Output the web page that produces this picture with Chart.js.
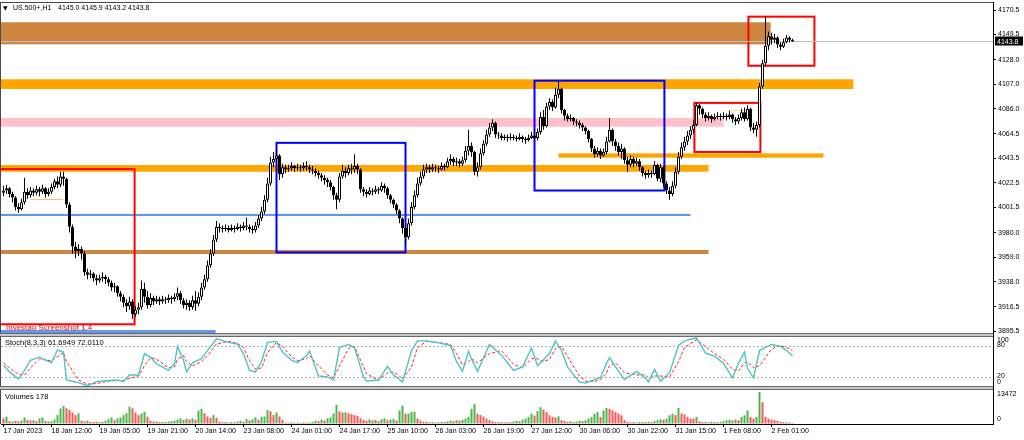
<!DOCTYPE html>
<html>
<head>
<meta charset="utf-8">
<script src="https://cdn.jsdelivr.net/npm/chart.js@4.4.1/dist/chart.umd.min.js"></script>
<style>
html,body{margin:0;padding:0;background:#fff}
#c{display:block}
</style>
</head>
<body>
<canvas id="c" width="1024" height="440" style="width:1024px;height:440px"></canvas>
<script>
// US.500+ H1, 17 Jan - 2 Feb 2023
var symbol = "US.500+,H1";
var xLabels = ["17 Jan 2023","18 Jan 12:00","19 Jan 05:00","19 Jan 21:00","20 Jan 14:00","23 Jan 08:00","24 Jan 01:00","24 Jan 17:00","25 Jan 10:00","26 Jan 03:00","26 Jan 19:00","27 Jan 12:00","30 Jan 06:00","30 Jan 22:00","31 Jan 15:00","1 Feb 08:00","2 Feb 01:00"];
var xLabelBars = [0,16,32,48,64,80,96,112,128,144,160,176,192,208,224,240,256];
var priceTicks = [4170.5,4149.5,4128.0,4107.0,4086.0,4064.5,4043.5,4022.5,4001.5,3980.0,3959.0,3938.0,3916.5,3895.5];

var opens = [
4014,4016,4018,4013,4010,4002,4000,4006,4015,4012,
4016,4014,4017,4015,4018,4013,4015,4019,4024,4021,
4028,4026,4004,3985,3968,3964,3966,3962,3946,3944,
3945,3941,3939,3941,3942,3940,3937,3933,3934,3928,
3925,3920,3917,3921,3910,3914,3916,3932,3925,3918,
3924,3921,3923,3921,3923,3922,3924,3923,3925,3928,
3922,3918,3920,3916,3922,3919,3925,3933,3940,3952,
3962,3974,3985,3984,3983,3984,3982,3984,3983,3985,
3984,3986,3985,3983,3982,3986,3992,3998,4008,4022,
4040,4043,4046,4030,4036,4034,4035,4037,4035,4036,
4035,4037,4036,4034,4033,4031,4029,4027,4025,4023,
4019,4012,4008,4028,4033,4031,4035,4034,4037,4034,
4017,4015,4013,4016,4015,4017,4016,4020,4018,4012,
4008,4004,3999,3992,3984,3976,3988,4002,4012,4022,
4028,4034,4036,4034,4036,4035,4034,4037,4036,4041,
4043,4040,4041,4039,4042,4050,4054,4049,4032,4036,
4048,4056,4064,4070,4074,4064,4063,4061,4062,4061,
4062,4061,4060,4062,4060,4059,4061,4063,4061,4066,
4079,4071,4088,4092,4087,4098,4103,4085,4080,4077,
4078,4075,4074,4072,4070,4067,4060,4052,4047,4050,
4046,4049,4058,4068,4058,4054,4049,4052,4042,4038,
4043,4039,4041,4036,4031,4029,4031,4030,4038,4026,
4036,4022,4016,4013,4020,4032,4045,4053,4058,4063,
4068,4072,4089,4086,4081,4078,4080,4077,4079,4080,
4079,4080,4079,4081,4077,4075,4078,4083,4077,4086,
4070,4068,4072,4105,4125,4140,4148,4145,4147,4141,
4139,4143,4147,4145.0];
var highs = [
4020,4021,4019,4015,4011,4005,4009,4027,4018,4019,
4018,4020,4019,4021,4019,4018,4022,4026,4028,4032,
4032,4027,4006,3987,3972,3970,3968,3964,3949,3948,
3946,3944,3944,3946,3944,3942,3939,3937,3935,3930,
3927,3923,3925,3923,3917,3920,3939,3937,3930,3928,
3926,3926,3925,3926,3925,3927,3926,3928,3933,3930,
3924,3923,3922,3926,3930,3929,3937,3944,3956,3966,
3978,3990,3988,3986,3987,3986,3987,3986,3988,3987,
3989,3993,3987,3986,3989,3995,4002,4012,4027,4045,
4049,4051,4047,4039,4038,4038,4040,4038,4039,4038,
4040,4041,4038,4037,4035,4033,4031,4029,4027,4025,
4020,4014,4031,4038,4036,4038,4039,4047,4039,4035,
4019,4017,4019,4018,4020,4019,4023,4022,4019,4013,
4009,4005,4000,3993,3986,3992,4006,4016,4027,4032,
4038,4039,4038,4039,4038,4037,4040,4039,4044,4047,
4045,4044,4043,4045,4054,4068,4057,4050,4040,4052,
4059,4068,4074,4077,4075,4066,4065,4064,4064,4065,
4064,4063,4065,4063,4062,4064,4066,4066,4069,4083,
4085,4091,4095,4094,4104,4110,4104,4086,4082,4081,
4079,4077,4076,4074,4071,4068,4061,4054,4053,4052,
4052,4062,4078,4069,4060,4057,4056,4053,4045,4046,
4045,4044,4043,4037,4033,4034,4033,4041,4039,4039,
4037,4024,4019,4024,4036,4049,4057,4062,4067,4071,
4076,4091,4090,4087,4083,4083,4081,4082,4083,4082,
4083,4082,4084,4082,4079,4081,4086,4087,4089,4087,
4074,4075,4108,4128,4164.5,4152,4151,4150,4148,4143,
4146,4149,4148,4145.9];
var lows = [
4011,4013,4010,4006,3999,3997,3999,4004,4009,4010,
4011,4012,4011,4013,4010,4011,4013,4017,4018,4019,
4020,4001,3980,3962,3958,3960,3957,3943,3940,3941,
3938,3935,3937,3938,3936,3934,3930,3929,3925,3921,
3916,3912,3914,3906,3908,3910,3914,3920,3915,3916,
3918,3919,3918,3919,3919,3920,3919,3921,3922,3919,
3915,3914,3913,3914,3913,3917,3922,3931,3938,3950,
3960,3972,3980,3980,3981,3980,3981,3980,3982,3981,
3982,3982,3980,3979,3980,3984,3990,3996,4006,4020,
4036,4040,4025,4027,4031,4032,4033,4032,4033,4032,
4033,4033,4031,4030,4028,4026,4024,4021,4019,4016,
4008,4000,4006,4026,4027,4029,4030,4031,4030,4014,
4011,4010,4012,4012,4013,4013,4015,4014,4009,4005,
4001,3996,3988,3979,3971,3974,3986,4000,4010,4020,
4026,4031,4031,4032,4032,4031,4033,4033,4035,4038,
4037,4037,4036,4037,4040,4046,4045,4029,4028,4034,
4046,4054,4062,4067,4061,4060,4059,4059,4058,4059,
4059,4058,4059,4057,4056,4058,4060,4059,4059,4064,
4068,4070,4085,4084,4086,4095,4082,4076,4075,4075,
4072,4071,4069,4067,4064,4057,4049,4044,4045,4043,
4045,4047,4057,4054,4050,4046,4043,4039,4032,4036,
4036,4037,4033,4028,4026,4027,4027,4029,4024,4023,
4019,4013,4008,4011,4018,4030,4043,4050,4055,4060,
4065,4071,4081,4078,4075,4076,4074,4076,4077,4076,
4077,4076,4077,4074,4072,4073,4076,4075,4076,4067,
4065,4062,4070,4103,4122,4136,4141,4142,4138,4136,
4138,4142,4143,4143.2];
var closes = [
4016,4018,4013,4010,4002,4000,4006,4015,4012,4016,
4014,4017,4015,4018,4013,4015,4019,4024,4021,4028,
4026,4004,3985,3968,3964,3966,3962,3946,3944,3945,
3941,3939,3941,3942,3940,3937,3933,3934,3928,3925,
3920,3917,3921,3910,3914,3916,3932,3925,3918,3924,
3921,3923,3921,3923,3922,3924,3923,3925,3928,3922,
3918,3920,3916,3922,3919,3925,3933,3940,3952,3962,
3974,3985,3984,3983,3984,3982,3984,3983,3985,3984,
3986,3985,3983,3982,3986,3992,3998,4008,4022,4040,
4043,4046,4030,4036,4034,4035,4037,4035,4036,4035,
4037,4036,4034,4033,4031,4029,4027,4025,4023,4019,
4012,4008,4028,4033,4031,4035,4034,4037,4034,4017,
4015,4013,4016,4015,4017,4016,4020,4018,4012,4008,
4004,3999,3992,3984,3976,3988,4002,4012,4022,4028,
4034,4036,4034,4036,4035,4034,4037,4036,4041,4043,
4040,4041,4039,4042,4050,4054,4049,4032,4036,4048,
4056,4064,4070,4074,4064,4063,4061,4062,4061,4062,
4061,4060,4062,4060,4059,4061,4063,4061,4066,4079,
4071,4088,4092,4087,4098,4103,4085,4080,4077,4078,
4075,4074,4072,4070,4067,4060,4052,4047,4050,4046,
4049,4058,4068,4058,4054,4049,4052,4042,4038,4043,
4039,4041,4036,4031,4029,4031,4030,4038,4026,4036,
4022,4016,4013,4020,4032,4045,4053,4058,4063,4068,
4072,4089,4086,4081,4078,4080,4077,4079,4080,4079,
4080,4079,4081,4077,4075,4078,4083,4077,4086,4070,
4068,4072,4105,4125,4140,4148,4145,4147,4141,4139,
4143,4147,4145,4143.8];
var volumes = [
2200,2900,1000,800,1200,900,1300,2600,1500,1200,
1400,1000,2200,2600,1100,800,1000,1700,3600,6400,
7500,6500,5800,4700,3600,4400,1200,900,1300,700,
600,800,500,700,1200,1800,2600,1400,2200,2600,
3600,4400,7200,6500,4700,3600,4300,5000,2900,1200,
800,900,600,700,500,800,1000,1200,1700,2200,
1500,2000,1700,2200,1600,5500,6200,4400,3000,2400,
3600,2400,800,500,700,400,600,500,800,1200,
700,2000,1300,1700,2600,1600,2900,3000,5800,5200,
3600,4700,3000,1500,400,300,500,300,400,300,
500,300,400,700,1200,1000,1700,1300,2200,2600,
4300,8000,5100,4700,4800,4400,4000,3600,3200,2200,
1500,1200,1700,1300,1500,1000,1800,2200,1400,1700,
2000,1300,5600,7700,4200,4300,4900,5000,2100,1200,
700,800,500,600,400,500,700,600,900,1200,
1000,1400,1200,1600,2100,2800,6300,8400,4200,3600,
2900,2100,1500,900,600,500,700,400,600,500,
800,1100,900,1600,2100,2800,4200,3400,5300,7000,
5900,4900,3500,2800,2500,3100,1400,1100,700,900,
600,800,1200,1000,1400,2100,2800,4200,4900,2800,
5600,6700,6300,5600,4900,4200,3500,1400,700,500,
600,400,700,500,600,800,600,1100,1400,1800,
1600,2100,3500,4200,3600,6700,4200,3900,2800,2100,
2100,2800,900,600,700,500,800,600,500,700,
1000,1400,1600,1300,1700,1400,2800,3500,5600,2800,
2100,2800,13472,9100,2800,2100,1700,1400,1100,700,
600,500,400,178];

// stochastic (8,3,3) read at these bars
var stochBars = [0,2,5,7,9,12,16,18,20,21,25,28,31,35,38,40,42,45,47,49,51,55,57,58,60,61,63,66,68,71,75,78,80,82,84,86,88,91,93,96,98,101,102,105,108,110,112,115,117,120,121,125,128,130,132,133,136,138,141,145,149,151,153,155,156,158,162,166,170,173,176,178,180,182,184,186,188,192,194,197,199,201,202,204,207,211,214,215,217,219,222,225,227,231,234,237,240,243,245,247,248,250,252,256,259,261,263];
var stochK = [43,30,16,33,53,59,48,73,69,14,9,3,11,13,14,11,24,24,66,59,46,33,46,80,53,30,48,56,72,95,88,85,66,33,30,50,88,90,69,53,48,62,71,22,20,14,78,84,78,20,12,14,41,24,15,10,72,91,91,87,82,50,31,71,56,31,84,63,33,40,77,42,54,66,91,72,40,10,8,15,19,47,58,40,15,31,18,10,35,12,28,82,91,97,67,61,47,18,47,69,37,18,72,84,80,72,61.6949];
var stochD = [48,38,25,24,38,55,52,60,68,50,14,6,7,12,13,13,17,22,42,58,55,38,40,55,62,50,42,50,62,85,90,86,78,52,35,38,68,88,80,60,52,56,62,42,24,18,42,76,80,40,26,14,28,30,22,16,40,78,90,88,84,66,44,50,56,48,66,72,45,38,56,56,50,55,76,80,60,22,12,11,15,28,42,48,28,24,24,18,22,22,20,50,78,93,80,66,55,35,32,48,50,38,42,75,82,78,72.0110];
var stochLevels = [80, 20];
var stochLabelVals = [100, 80, 20, 0];
var volLabelVals = [13472, 0];

// objects on the price window (bar index from/to, price high/low)
var zoneFrom = [-5, -5, -5, -5, 185, -5, -5, -5];
var zoneTo = [255.7, 283.3, 240, 235, 273.3, 229, 235, 70.7];
var zoneHigh = [4160.0, 4111.2, 4078.1, 4037.8, 4047.8, 3996.0, 3965.1, 3896.6];
var zoneLow = [4141.1, 4102.9, 4070.6, 4032.1, 4044.1, 3994.2, 3961.7, 3893.7];
var boxFrom = [-5, 91, 177, 230.3, 248.3];
var boxTo = [43.7, 134, 220.3, 252.3, 270.3];
var boxHigh = [4034.3, 4056.8, 4110.0, 4091.0, 4164.8];
var boxLow = [3901.5, 3963.0, 4016.0, 4049.0, 4122.8];
var segFrom = [9, 241.3];
var segTo = [19.7, 250];
var segLevel = [4008.6, 4084.9];
var caption = "Investao Screenshot 1.4";

var zoneColors = ['#cd853f','#ffa500','#ffc0cb','#ffa500','#ffa500','#6495ed','#cd853f','#6495ed'];
var boxColors = ['#ff0000','#0000ff','#0000ff','#ff0000','#ff0000'];
var segColors = ['#ffbf70','#ffd690'];

Chart.defaults.font.family = "'Liberation Sans', Arial, sans-serif";
Chart.defaults.font.size = 7;
Chart.defaults.color = '#000';

var last = closes.length - 1;
var bodies = [], bodyColors = [], wicks = [], volPts = [], volColors = [];
for (var i = 0; i < closes.length; i++) {
	bodies.push({x: i, y: [opens[i], closes[i]]});
	bodyColors.push(closes[i] >= opens[i] ? '#ffffff' : '#000000');
	wicks.push({x: i, y: [lows[i], highs[i]]});
	volPts.push({x: i, y: volumes[i]});
	volColors.push(i > 0 && volumes[i] > volumes[i - 1] ? '#4cb64c' : '#f25858');
}
var kPts = [], dPts = [];
for (var j = 0; j < stochBars.length; j++) {
	kPts.push({x: stochBars[j], y: stochK[j]});
	dPts.push({x: stochBars[j], y: stochD[j]});
}

function sep(ctx, x0, x1, y) {
	ctx.fillStyle = '#c8c8c8';
	ctx.fillRect(x0, y - 2, x1 - x0, 4);
	ctx.fillStyle = '#6a6a6a';
	ctx.fillRect(x0, y - 2, x1 - x0, 1);
	ctx.fillRect(x0, y + 1, x1 - x0, 1);
}
function noPad(s) {
	s.paddingTop = 0; s.paddingBottom = 0; s.paddingLeft = 0; s.paddingRight = 0;
}

var overlay = {
	id: 'overlay',
	beforeDatasetsDraw: function(c) {
		var ctx = c.ctx, a = c.chartArea, X = c.scales.x, Y = c.scales.y, S = c.scales.yS;
		ctx.save();
		ctx.beginPath();
		ctx.rect(a.left, a.top, a.right - a.left, Y.bottom - a.top);
		ctx.clip();
		for (var k = 0; k < zoneFrom.length; k++) {
			var x0 = X.getPixelForValue(zoneFrom[k]), x1 = X.getPixelForValue(zoneTo[k]);
			var y0 = Y.getPixelForValue(zoneHigh[k]), y1 = Y.getPixelForValue(zoneLow[k]);
			ctx.fillStyle = zoneColors[k];
			ctx.fillRect(x0, y0, x1 - x0, y1 - y0);
		}
		ctx.font = "8px 'Liberation Sans', Arial, sans-serif";
		ctx.fillStyle = '#ff0000';
		ctx.textBaseline = 'alphabetic';
		ctx.fillText(caption, a.left + 5, Y.getPixelForValue(3896.6));
		ctx.lineWidth = 2;
		for (k = 0; k < boxFrom.length; k++) {
			var bx0 = X.getPixelForValue(boxFrom[k]), bx1 = X.getPixelForValue(boxTo[k]);
			var by0 = Y.getPixelForValue(boxHigh[k]), by1 = Y.getPixelForValue(boxLow[k]);
			ctx.strokeStyle = boxColors[k];
			ctx.strokeRect(bx0, by0, bx1 - bx0, by1 - by0);
		}
		ctx.lineWidth = 1;
		for (k = 0; k < segFrom.length; k++) {
			var sy = Math.round(Y.getPixelForValue(segLevel[k])) + 0.5;
			ctx.strokeStyle = segColors[k];
			ctx.beginPath();
			ctx.moveTo(X.getPixelForValue(segFrom[k]), sy);
			ctx.lineTo(X.getPixelForValue(segTo[k]), sy);
			ctx.stroke();
		}
		var bidY = Math.round(Y.getPixelForValue(closes[last])) + 0.5;
		ctx.strokeStyle = '#c0c0c0';
		ctx.beginPath();
		ctx.moveTo(a.left, bidY);
		ctx.lineTo(a.right, bidY);
		ctx.stroke();
		ctx.restore();

		ctx.save();
		ctx.strokeStyle = '#b4b4b4';
		ctx.setLineDash([2, 2]);
		for (k = 0; k < stochLevels.length; k++) {
			var ly = Math.round(S.getPixelForValue(stochLevels[k])) + 0.5;
			ctx.beginPath();
			ctx.moveTo(a.left, ly);
			ctx.lineTo(a.right, ly);
			ctx.stroke();
		}
		ctx.restore();
	},
	afterDraw: function(c) {
		var ctx = c.ctx, a = c.chartArea, Y = c.scales.y, S = c.scales.yS, V = c.scales.yV;
		ctx.save();
		// window frame and pane separators
		ctx.fillStyle = '#4a4a4a';
		ctx.fillRect(a.left - 1, a.top, a.right - a.left + 1, 1);
		ctx.fillRect(a.left - 1, a.top, 1, a.bottom - a.top);
		sep(ctx, a.left - 1, a.right, Math.round(S.top));
		sep(ctx, a.left - 1, a.right, Math.round(V.top));

		ctx.fillStyle = '#000';
		ctx.textBaseline = 'middle';
		ctx.textAlign = 'left';
		ctx.font = "6px 'DejaVu Sans', sans-serif";
		ctx.fillText('\u25BC', a.left + 2, a.top + 6);
		ctx.font = "7px 'Liberation Sans', Arial, sans-serif";
		ctx.fillText(symbol, a.left + 12, a.top + 6);
		ctx.fillText([opens[last], highs[last], lows[last], closes[last]].map(function(v) { return v.toFixed(1); }).join(' '), a.left + 57, a.top + 6);

		ctx.font = "7.5px 'Liberation Sans', Arial, sans-serif";
		ctx.fillText('Stoch(8,3,3) ' + stochK[stochK.length - 1].toFixed(4) + ' ' + stochD[stochD.length - 1].toFixed(4), a.left + 4, S.top + 8);
		ctx.fillText('Volumes ' + volumes[last], a.left + 4, V.top + 9);

		// right-side labels of the two indicator panes
		ctx.font = "7px 'Liberation Sans', Arial, sans-serif";
		var lx = a.right + 4;
		for (var k = 0; k < stochLabelVals.length; k++) {
			var v = stochLabelVals[k], y = S.getPixelForValue(v);
			if (v === 100) { ctx.textBaseline = 'top'; y = S.top + 2; }
			else if (v === 0) { ctx.textBaseline = 'bottom'; y = S.bottom - 2; }
			else { ctx.textBaseline = 'middle'; y -= 1; }
			ctx.fillText(String(v), lx, y);
		}
		for (k = 0; k < volLabelVals.length; k++) {
			var vv = volLabelVals[k];
			if (vv === 0) { ctx.textBaseline = 'bottom'; ctx.fillText('0', lx, V.bottom - 1); }
			else { ctx.textBaseline = 'middle'; ctx.fillText(String(vv), lx, V.getPixelForValue(vv) + 2); }
		}

		// current price marker
		var py = Y.getPixelForValue(closes[last]);
		ctx.fillStyle = '#000';
		ctx.fillRect(a.right + 2, Math.round(py) - 4.5, 28, 9);
		ctx.fillStyle = '#fff';
		ctx.textBaseline = 'middle';
		ctx.fillText(closes[last].toFixed(1), a.right + 4, py + 0.5);
		ctx.restore();
	}
};

new Chart(document.getElementById('c'), {
	type: 'bar',
	data: {
		datasets: [
			{type: 'bar', data: bodies, yAxisID: 'y', backgroundColor: bodyColors, borderColor: '#000', borderWidth: 1, borderSkipped: false, barThickness: 3, grouped: false, inflateAmount: 0, order: 1},
			{type: 'bar', data: wicks, yAxisID: 'y', backgroundColor: '#000', borderWidth: 0, barThickness: 1, grouped: false, inflateAmount: 0, order: 2},
			{type: 'line', data: dPts, yAxisID: 'yS', borderColor: '#ff2020', borderWidth: 1, borderDash: [3, 2], pointRadius: 0, tension: 0, order: 1},
			{type: 'line', data: kPts, yAxisID: 'yS', borderColor: '#4cc4c4', borderWidth: 1.4, pointRadius: 0, tension: 0, order: 0},
			{type: 'bar', data: volPts, yAxisID: 'yV', backgroundColor: volColors, borderWidth: 0, barThickness: 2, grouped: false, inflateAmount: 0, order: 1}
		]
	},
	options: {
		responsive: false,
		maintainAspectRatio: false,
		devicePixelRatio: 1,
		animation: false,
		events: [],
		layout: {autoPadding: false, padding: {left: 1, top: 2, right: 0, bottom: 0}},
		plugins: {legend: {display: false}, tooltip: {enabled: false}},
		scales: {
			x: {
				type: 'linear', position: 'bottom', min: -0.833, max: 329.83, offset: false,
				afterBuildTicks: function(s) { s.ticks = xLabelBars.map(function(v) { return {value: v}; }); },
				afterFit: function(s) { s.height = 16; noPad(s); },
				ticks: {autoSkip: false, maxRotation: 0, minRotation: 0, align: 'start', padding: 0,
					callback: function(v, idx) { return xLabels[idx]; }},
				grid: {display: true, offset: false, drawOnChartArea: false, drawTicks: true, tickLength: 3, color: '#000'},
				border: {display: true, color: '#000'}
			},
			y: {
				type: 'linear', position: 'right', stack: 'panes', stackWeight: 333,
				min: 3892.34, max: 4177.35, beginAtZero: false,
				afterBuildTicks: function(s) { s.ticks = priceTicks.map(function(v) { return {value: v}; }); },
				afterFit: function(s) { s.width = 31; noPad(s); },
				ticks: {padding: 2, callback: function(v) { return v.toFixed(1); }},
				grid: {drawOnChartArea: false, drawTicks: true, tickLength: 3, color: '#000'},
				border: {display: true, color: '#000'}
			},
			yS: {
				type: 'linear', position: 'right', stack: 'panes', stackWeight: 53,
				min: -1.65, max: 102.6, beginAtZero: false,
				afterFit: function(s) { s.width = 31; noPad(s); },
				ticks: {display: false},
				grid: {display: false},
				border: {display: true, color: '#000'}
			},
			yV: {
				type: 'linear', position: 'right', stack: 'panes', stackWeight: 36,
				min: -214, max: 15183, beginAtZero: false,
				afterFit: function(s) { s.width = 31; noPad(s); },
				ticks: {display: false},
				grid: {display: false},
				border: {display: true, color: '#000'}
			}
		}
	},
	plugins: [overlay]
});
</script>
</body>
</html>
